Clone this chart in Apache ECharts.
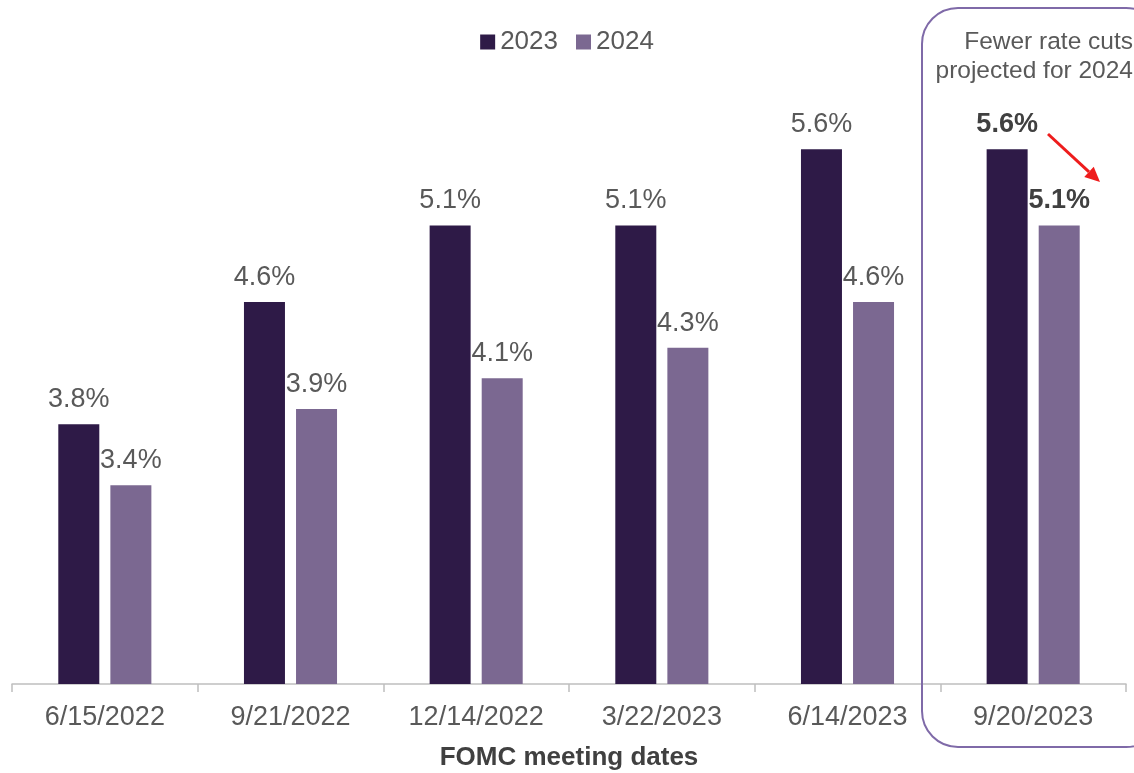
<!DOCTYPE html>
<html>
<head>
<meta charset="utf-8">
<style>
  html, body { margin: 0; padding: 0; background: #ffffff; }
  #chart { width: 1134px; height: 773px; }
</style>
<script src="https://cdn.jsdelivr.net/npm/echarts@6/dist/echarts.min.js"></script>
</head>
<body>
<div id="chart"></div>
<script>
// FOMC median projections of the fed funds rate (%), by meeting date
const meetingDates = ['6/15/2022', '9/21/2022', '12/14/2022', '3/22/2023', '6/14/2023', '9/20/2023'];
const rates2023 = [3.8, 4.6, 5.1, 5.1, 5.6, 5.6];
const rates2024 = [3.4, 3.9, 4.1, 4.3, 4.6, 5.1];
const seriesNames = ['2023', '2024'];

const FONT = 'Liberation Sans, Arial, sans-serif';
const TEXT_GREY = '#595959';
const DARK = '#2e1a47';
const LIGHT = '#7b6891';

// the latest meeting gets bold value labels
function withEmphasisOnLast(values) {
  return values.map((v, i) => i === values.length - 1
    ? { value: v, label: { fontWeight: 'bold', color: '#404040' } }
    : v);
}

const chart = echarts.init(document.getElementById('chart'), null, { renderer: 'canvas' });

const labelStyle = {
  show: true,
  position: 'top',
  distance: 11,
  fontFamily: FONT,
  fontSize: 27,
  color: TEXT_GREY,
  formatter: p => p.value.toFixed(1) + '%'
};

// arrow from the 2023 label towards the 2024 label in the last group
const arrowStart = [1048, 134];
const arrowTip = [1100, 182];
const dx = arrowTip[0] - arrowStart[0], dy = arrowTip[1] - arrowStart[1];
const len = Math.hypot(dx, dy);
const ux = dx / len, uy = dy / len;
const headLen = 15, headHalf = 7;
const base = [arrowTip[0] - ux * headLen, arrowTip[1] - uy * headLen];

chart.setOption({
  animation: false,
  backgroundColor: '#ffffff',
  textStyle: { fontFamily: FONT },
  legend: {
    data: seriesNames,
    top: 24,
    left: 'center',
    itemWidth: 15,
    itemHeight: 15,
    itemGap: 18,
    icon: 'rect',
    textStyle: { fontFamily: FONT, fontSize: 26, color: TEXT_GREY }
  },
  grid: { left: 12, right: 8, top: 88, bottom: 89, containLabel: false, outerBoundsMode: 'none' },
  xAxis: {
    type: 'category',
    data: meetingDates,
    axisLine: { lineStyle: { color: '#bfbfbf', width: 1.5 } },
    axisTick: { show: true, length: 8, lineStyle: { color: '#bfbfbf', width: 1.5 } },
    axisLabel: { fontFamily: FONT, fontSize: 27, color: TEXT_GREY, margin: 20 },
    name: 'FOMC meeting dates',
    nameLocation: 'middle',
    nameGap: 61,
    nameTextStyle: { fontFamily: FONT, fontSize: 26, fontWeight: 'bold', color: '#404040' }
  },
  yAxis: {
    type: 'value',
    min: 2.1,
    max: 6.0,
    show: false,
    splitLine: { show: false }
  },
  series: [
    {
      name: seriesNames[0],
      type: 'bar',
      data: withEmphasisOnLast(rates2023),
      barWidth: 41,
      barGap: '27%',
      itemStyle: { color: DARK },
      label: labelStyle
    },
    {
      name: seriesNames[1],
      type: 'bar',
      data: withEmphasisOnLast(rates2024),
      barWidth: 41,
      itemStyle: { color: LIGHT },
      label: labelStyle
    }
  ],
  graphic: [
    {
      type: 'rect',
      shape: { x: 922, y: 8, width: 240, height: 739, r: 36 },
      style: { fill: 'none', stroke: '#7f6aa8', lineWidth: 2 },
      z: 10
    },
    {
      type: 'text',
      x: 1133,
      y: 28,
      style: {
        text: 'Fewer rate cuts\nprojected for 2024',
        fontFamily: FONT,
        fontSize: 24.5,
        lineHeight: 29,
        fill: TEXT_GREY,
        align: 'right',
        verticalAlign: 'top'
      },
      z: 10
    },
    {
      type: 'line',
      shape: { x1: arrowStart[0], y1: arrowStart[1], x2: base[0], y2: base[1] },
      style: { stroke: '#ee1c1c', lineWidth: 3 },
      z: 10
    },
    {
      type: 'polygon',
      shape: {
        points: [
          arrowTip,
          [base[0] - uy * headHalf, base[1] + ux * headHalf],
          [base[0] + uy * headHalf, base[1] - ux * headHalf]
        ]
      },
      style: { fill: '#ee1c1c' },
      z: 10
    }
  ]
});
</script>
</body>
</html>
